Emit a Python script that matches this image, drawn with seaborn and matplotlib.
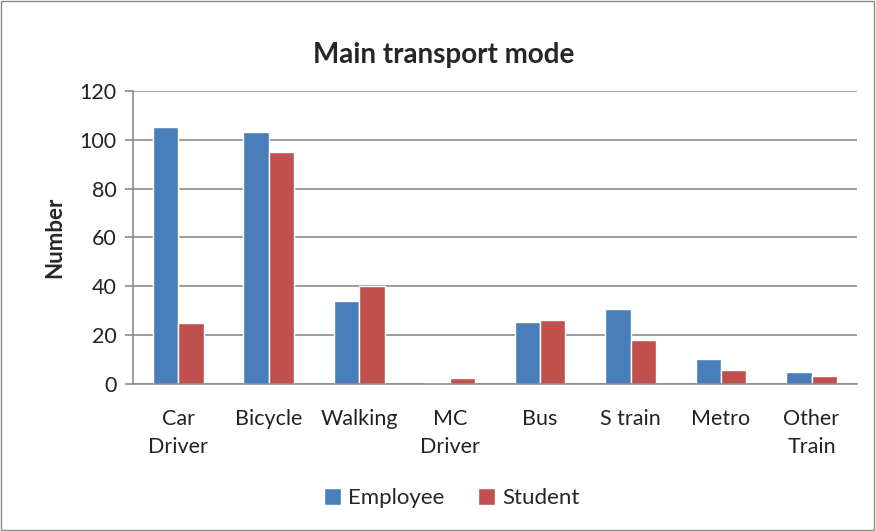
import matplotlib
matplotlib.use("Agg")
import matplotlib.pyplot as plt
import matplotlib.patches as mpatches
import seaborn as sns
import pandas as pd

categories = ["Car\nDriver", "Bicycle", "Walking", "MC\nDriver", "Bus", "S train", "Metro", "Other\nTrain"]
employee = [105, 103, 34, 0.3, 25.5, 30.5, 10.2, 4.8]
student = [25, 95, 40, 2.5, 26, 18, 5.6, 3.4]
series = ["Employee", "Student"]
colors = ["#4A7EBB", "#C0504D"]

df = pd.DataFrame({
    "mode": categories * 2,
    "value": employee + student,
    "group": [series[0]] * len(categories) + [series[1]] * len(categories),
})

sns.set_style("white")
plt.rcParams["font.family"] = ["Lato", "DejaVu Sans"]

fig = plt.figure(figsize=(8.76, 5.31), dpi=100)
ax = fig.add_axes([0.152, 0.277, 0.826, 0.552])

sns.barplot(data=df, x="mode", y="value", hue="group", palette=colors,
            width=0.56, saturation=1, gap=0, ax=ax, legend=True)

ax.set_ylim(0, 120)
ax.set_xlim(-0.5, len(categories) - 0.5)
ax.set_yticks(range(0, 121, 20))
ax.yaxis.grid(True, color="#8c8c8c", linewidth=1.2)
ax.set_axisbelow(True)
for s in ["top", "right"]:
    ax.spines[s].set_visible(False)
for s in ["left", "bottom"]:
    ax.spines[s].set_color("#8c8c8c")
    ax.spines[s].set_linewidth(1.2)

ax.tick_params(axis="x", which="major", length=0, pad=18, labelsize=15.5, colors="#222222")
for lbl in ax.get_xticklabels():
    lbl.set_linespacing(1.5)
ax.set_xticks([i + 0.5 for i in range(-1, len(categories))], minor=True)
ax.tick_params(axis="x", which="minor", length=6, color="#8c8c8c", width=1.2)
ax.tick_params(axis="y", length=6, color="#8c8c8c", width=1.2, labelsize=15.5,
               left=True, pad=6)
for lbl in ax.get_yticklabels():
    lbl.set_color("#222222")

ax.set_xlabel("")
ax.set_ylabel("Number", fontsize=16, fontweight="bold", labelpad=10)
fig.suptitle("Main transport mode", x=0.506, y=0.92, fontsize=20, fontweight="bold")

handles, labels = ax.get_legend_handles_labels()
ax.legend(handles, labels, loc="center", bbox_to_anchor=(0.44, -0.39), ncol=2,
          frameon=False, fontsize=16, handlelength=0.8, handleheight=0.8,
          handletextpad=0.3, columnspacing=1.5)

fig.patches.append(mpatches.Rectangle((0.001, 0.001), 0.997, 0.997, transform=fig.transFigure,
                                      fill=False, edgecolor="#8c8c8c", linewidth=1))

fig.savefig("out.png", dpi=100)
